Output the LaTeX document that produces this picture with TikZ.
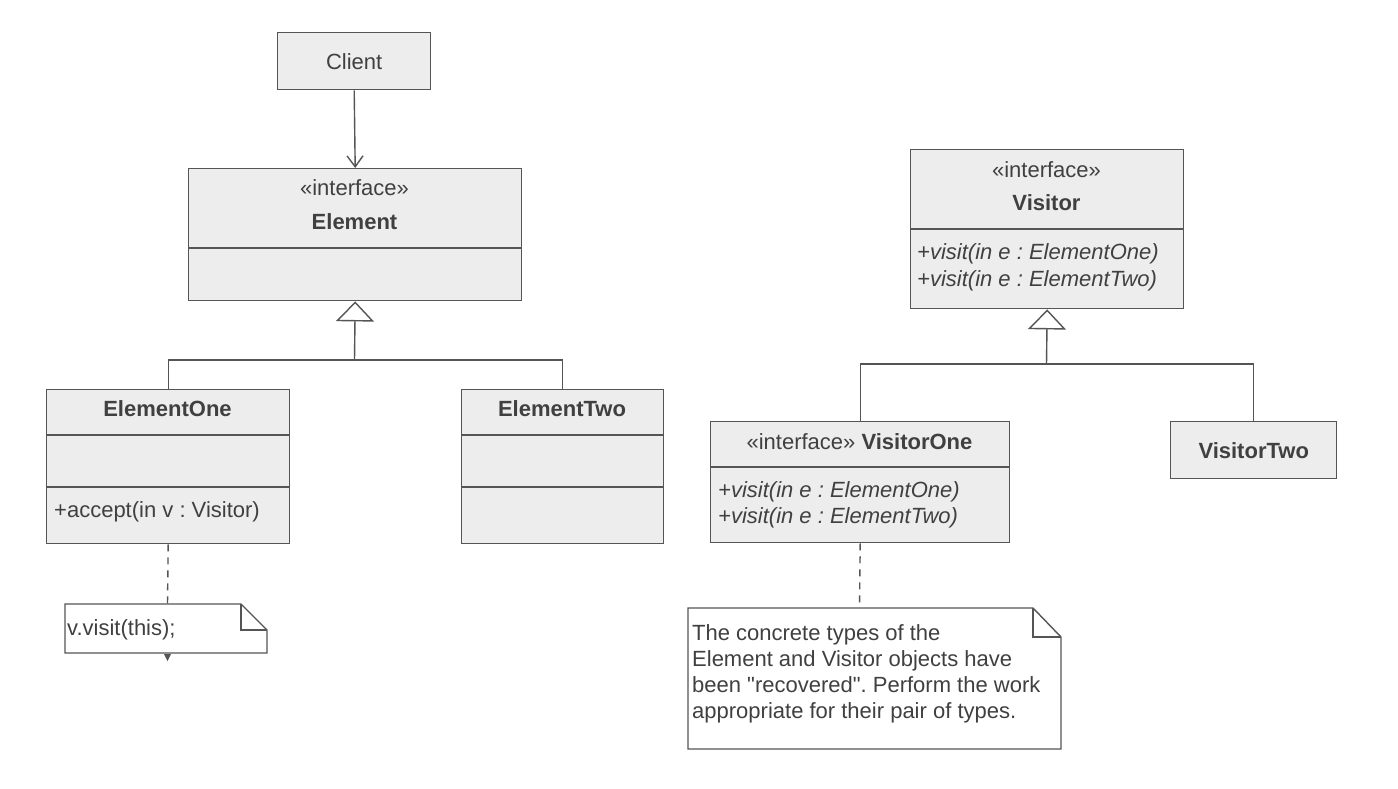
\documentclass[tikz,border=0pt]{standalone}
\usepackage{fontspec}
\setmainfont{Liberation Sans}[Ligatures=TeXOff]
\frenchspacing
\usetikzlibrary{arrows.meta}
\definecolor{linec}{HTML}{555555}
\definecolor{boxfill}{HTML}{EDEDED}
\definecolor{txt}{HTML}{404040}
\tikzset{
  box/.style={draw=linec, fill=boxfill, line width=1.4pt, inner sep=0pt, anchor=north west},
  lbl/.style={text=txt, font=\fontsize{22}{26}\selectfont, inner sep=0pt},
  boldlbl/.style={lbl, font=\fontsize{22}{26}\selectfont\bfseries},
  itlbl/.style={lbl, anchor=west, font=\fontsize{22}{26}\selectfont\itshape},
  divider/.style={draw=linec, line width=1.4pt},
  conn/.style={draw=linec, line width=1.4pt},
  inh/.style={conn, -{Triangle[open, length=20pt, width=38pt, line width=1.4pt]}},
  assoc/.style={conn, -{Straight Barb[length=11pt, width=16pt, line width=1.4pt]}},
  anchorline/.style={conn, dash pattern=on 7pt off 6pt},
  notebox/.style={draw=linec, fill=white, line width=1.4pt, line join=miter}
}
\begin{document}
\begin{tikzpicture}[x=1pt,y=-1pt]
\useasboundingbox[fill=white] (0,0) rectangle (1398,788);

% ---------- Client ----------
\node[box, minimum width=153pt, minimum height=57pt] (client) at (277,32) {};
\node[lbl] (clientT) at (client.center) {Client};

% ---------- Element ----------
\node[box, minimum width=333pt, minimum height=132pt] (element) at (188,168) {};
\draw[divider] (188,248) -- (521,248);
\node[lbl] (elementS) at (354.5,188) {«interface»};
\node[boldlbl] (elementN) at (354.5,222) {Element};

% ---------- ElementOne ----------
\node[box, minimum width=243pt, minimum height=154pt] (eone) at (46,389) {};
\draw[divider] (46,435) -- (289,435);
\draw[divider] (46,487) -- (289,487);
\node[boldlbl] (eoneN) at (167.5,409) {ElementOne};
\node[lbl, anchor=west] (eoneM) at (54,512) {+accept(in v : Visitor)};

% ---------- ElementTwo ----------
\node[box, minimum width=202pt, minimum height=154pt] (etwo) at (461,389) {};
\draw[divider] (461,435) -- (663,435);
\draw[divider] (461,487) -- (663,487);
\node[boldlbl] (etwoN) at (562,409) {ElementTwo};

% ---------- Visitor ----------
\node[box, minimum width=273pt, minimum height=159pt] (visitor) at (910,149) {};
\draw[divider] (910,229) -- (1183,229);
\node[lbl] (visitorS) at (1046.5,170) {«interface»};
\node[boldlbl] (visitorN) at (1046.5,203) {Visitor};
\node[itlbl] (visitorM1) at (917,254) {+visit(in e : ElementOne)};
\node[itlbl] (visitorM2) at (917,281) {+visit(in e : ElementTwo)};

% ---------- VisitorOne ----------
\node[box, minimum width=299pt, minimum height=121pt] (vone) at (710,421) {};
\draw[divider] (710,467) -- (1009,467);
\node[lbl] (voneN) at (859.5,442) {«interface» \textbf{VisitorOne}};
\node[itlbl] (voneM1) at (718,492) {+visit(in e : ElementOne)};
\node[itlbl] (voneM2) at (718,518) {+visit(in e : ElementTwo)};

% ---------- VisitorTwo ----------
\node[box, minimum width=166pt, minimum height=57pt] (vtwo) at (1170,421) {};
\node[boldlbl] (vtwoN) at (vtwo.center) {VisitorTwo};

% ---------- Notes ----------
\draw[notebox] (65,604) -- (241,604) -- (267,630) -- (267,653) -- (65,653) -- cycle;
\draw[notebox, fill=none] (241,604) -- (241,630) -- (267,630);
\coordinate (noteA) at (167.5,604);
\node[lbl, anchor=west] (noteAT) at (67,630) {v.visit(this);};
\fill[linec] (164,654) -- (171,654) -- (167.5,661) -- cycle;

\draw[notebox] (688,608) -- (1033,608) -- (1061,637) -- (1061,749) -- (688,749) -- cycle;
\draw[notebox, fill=none] (1033,608) -- (1033,637) -- (1061,637);
\coordinate (noteB) at (859.5,608);
\node[lbl, anchor=north west, align=left] (noteBT) at (692,624)
  {The concrete types of the\\Element and Visitor objects have\\been "recovered". Perform the work\\appropriate for their pair of types.};

% ---------- Connectors ----------
\draw[assoc] (client.south) -- (element.north);

\coordinate (jE) at (354.5,360);
\draw[inh] (jE) -- (element.south);
\draw[conn] (eone.north) |- (jE) -| (etwo.north);

\coordinate (jV) at (1046.5,364);
\draw[inh] (jV) -- (visitor.south);
\draw[conn] (vone.north) |- (jV) -| (vtwo.north);

\draw[anchorline] (eone.south) -- (noteA);
\draw[anchorline] (vone.south) -- (noteB);
\end{tikzpicture}
\end{document}
